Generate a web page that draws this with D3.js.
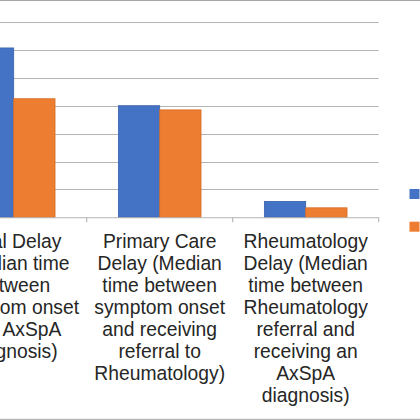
<!DOCTYPE html>
<html>
<head>
<meta charset="utf-8">
<script src="https://cdn.jsdelivr.net/npm/d3@7.9.0/dist/d3.min.js"></script>
<style>
  html, body { margin: 0; padding: 0; background: #fff; overflow: hidden; }
  svg { display: block; font-family: "Liberation Sans", Arial, sans-serif; }
</style>
</head>
<body>
<div id="chart"></div>
<script>
// categories, each label split into its wrapped lines
const categories = ['Total', 'Primary', 'Rheum'];
const categoryLines = [
  ['Total Delay', '(Median time', 'between', 'symptom onset', 'and AxSpA', 'diagnosis)'],
  ['Primary Care', 'Delay (Median', 'time between', 'symptom onset', 'and receiving', 'referral to', 'Rheumatology)'],
  ['Rheumatology', 'Delay (Median', 'time between', 'Rheumatology', 'referral and', 'receiving an', 'AxSpA', 'diagnosis)']
];
const seriesNames = ['Series 1', 'Series 2'];
const series1 = [6.07, 4.0, 0.57];
const series2 = [4.25, 3.85, 0.34];
const yTicks = [0, 1, 2, 3, 4, 5, 6, 7];

const width = 420;
const height = 420;
const colors = ['#4472C4', '#ED7D31'];
const strokes = ['#3a62ab', '#d56d27'];

const plot = { left: -59.3, right: 378.7, top: 22, bottom: 217.3 };

const svg = d3.select('#chart')
  .append('svg')
  .attr('width', width)
  .attr('height', height);

// chart frame
svg.append('rect')
  .attr('x', -5).attr('y', 0.5)
  .attr('width', width + 20).attr('height', 418.8)
  .attr('fill', 'none')
  .attr('stroke', '#a6a6a6')
  .attr('stroke-width', 1);

const x0 = d3.scaleBand()
  .domain(categories)
  .range([plot.left, plot.right])
  .paddingInner(0.434)
  .paddingOuter(0.217);

const x1 = d3.scaleBand()
  .domain(seriesNames)
  .range([0, x0.bandwidth()]);

const y = d3.scaleLinear()
  .domain([0, 7])
  .range([plot.bottom, plot.top]);

// gridlines
svg.append('g')
  .selectAll('line')
  .data(yTicks.filter(d => d > 0))
  .join('line')
  .attr('x1', plot.left)
  .attr('x2', plot.right)
  .attr('y1', d => Math.round(y(d)) + 0.5)
  .attr('y2', d => Math.round(y(d)) + 0.5)
  .attr('stroke', '#b4b4b4')
  .attr('stroke-width', 1.1);

// bars
const rows = categories.map((c, i) => ({ cat: c, values: [series1[i], series2[i]] }));

const groups = svg.append('g')
  .selectAll('g')
  .data(rows)
  .join('g')
  .attr('transform', d => `translate(${x0(d.cat)},0)`);

groups.selectAll('rect')
  .data(d => d.values.map((v, j) => ({ name: seriesNames[j], value: v, j })))
  .join('rect')
  .attr('x', d => x1(d.name))
  .attr('y', d => y(d.value))
  .attr('width', x1.bandwidth())
  .attr('height', d => y(0) - y(d.value))
  .attr('fill', d => colors[d.j])
  .attr('stroke', d => strokes[d.j])
  .attr('stroke-width', 0.8);

// category axis
const xAxisLine = svg.append('g');
xAxisLine.append('line')
  .attr('x1', plot.left).attr('x2', plot.right)
  .attr('y1', plot.bottom + 0.5).attr('y2', plot.bottom + 0.5)
  .attr('stroke', '#b4b4b4')
  .attr('stroke-width', 1.1);

const step = x0.step();
const boundaries = d3.range(categories.length + 1).map(i => plot.left + i * step);
xAxisLine.selectAll('line.tick')
  .data(boundaries)
  .join('line')
  .attr('class', 'tick')
  .attr('x1', d => d).attr('x2', d => d)
  .attr('y1', plot.bottom).attr('y2', plot.bottom + 5)
  .attr('stroke', '#b4b4b4')
  .attr('stroke-width', 1.1);

// category labels
const labels = svg.append('g')
  .selectAll('text')
  .data(categories)
  .join('text')
  .attr('x', d => x0(d) + x0.bandwidth() / 2)
  .attr('y', 247.7)
  .attr('text-anchor', 'middle')
  .attr('font-size', 19.3)
  .attr('fill', '#262626');

labels.selectAll('tspan')
  .data((d, i) => categoryLines[i])
  .join('tspan')
  .attr('x', function () { return d3.select(this.parentNode).attr('x'); })
  .attr('dy', (d, i) => i === 0 ? 0 : 22)
  .text(d => d);

// legend (names run off the right edge)
const legend = svg.append('g')
  .selectAll('g')
  .data(seriesNames)
  .join('g')
  .attr('transform', (d, i) => `translate(409.5, ${189 + i * 32.7})`);

legend.append('rect')
  .attr('width', 10)
  .attr('height', 10)
  .attr('fill', (d, i) => colors[i]);

legend.append('text')
  .attr('x', 16)
  .attr('y', 9)
  .attr('font-size', 19.3)
  .attr('fill', '#262626')
  .text(d => d);
</script>
</body>
</html>
